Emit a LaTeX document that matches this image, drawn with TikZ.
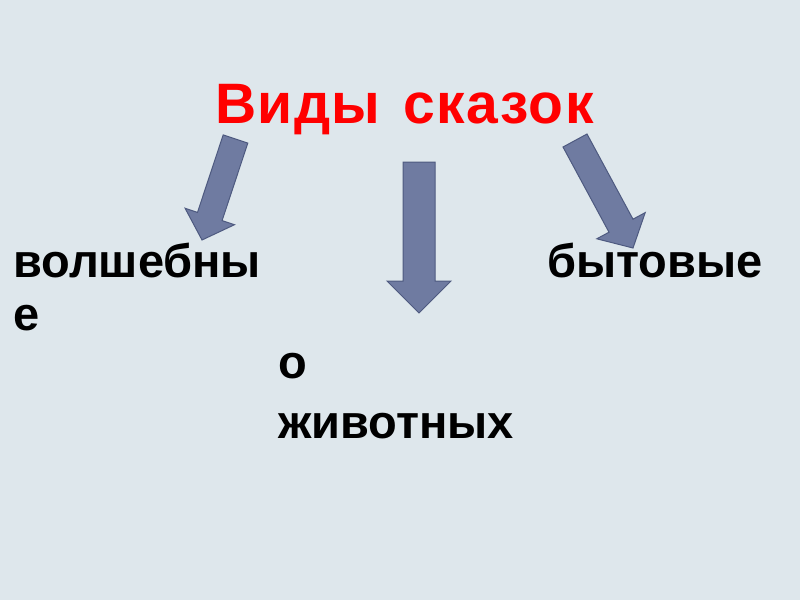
\documentclass[tikz,border=0pt]{standalone}
\usepackage{fontspec}
\setmainfont{Liberation Sans}
\newfontfamily\titlefont[LetterSpace=2.5]{Liberation Sans}
\usepackage{tikz}
\definecolor{slideBg}{HTML}{DEE7EC}
\definecolor{arrowFill}{HTML}{6F7BA1}
\definecolor{arrowLine}{HTML}{4E5A80}
\definecolor{titleRed}{HTML}{FF0000}
\tikzstyle{Title} = [anchor=base west,
                     inner sep=0pt,
                     text=titleRed,
                     font=\titlefont\fontsize{57}{60}\selectfont\bfseries]
\tikzstyle{Kind} = [anchor=base west,
                    inner sep=0pt,
                    text=black,
                    align=left,
                    font=\fontsize{47}{56}\selectfont\bfseries]
\tikzstyle{BlockArrow} = [fill=arrowFill,
                          draw=arrowLine,
                          line width=1pt,
                          line join=miter]

\begin{document}
\begin{tikzpicture}[x=1pt, y=-1pt]
        \fill[slideBg] (0,0) rectangle (800,600);
        \useasboundingbox (0,0) rectangle (800,600);

        \node (T) [Title] at (215,123) {Виды\hspace{6pt} сказок};

        % arrows
        \filldraw[BlockArrow] (223.2,134.9) -- (247.8,143.1) -- (222.1,220.6) -- (234.5,224.7)
                              -- (202,240) -- (185.1,208.3) -- (197.5,212.4) -- cycle;
        \filldraw[BlockArrow] (403,162) -- (435,162) -- (435,281) -- (451,281)
                              -- (419,313) -- (387,281) -- (403,281) -- cycle;
        \filldraw[BlockArrow] (563,147) -- (587,134) -- (633,219.2) -- (645.2,212.6)
                              -- (633,248) -- (596.8,238.8) -- (609,232.2) -- cycle;

        \node (K1a) [Kind] at (13,277) {волшебны};
        \node (K1b) [Kind] at (13,330) {е};
        \node (K2a) [Kind] at (278,378) {о};
        \node (K2b) [Kind] at (278,438) {животных};
        \node (K3)  [Kind] at (547,277) {бытовые};
    \end{tikzpicture}
\end{document}
